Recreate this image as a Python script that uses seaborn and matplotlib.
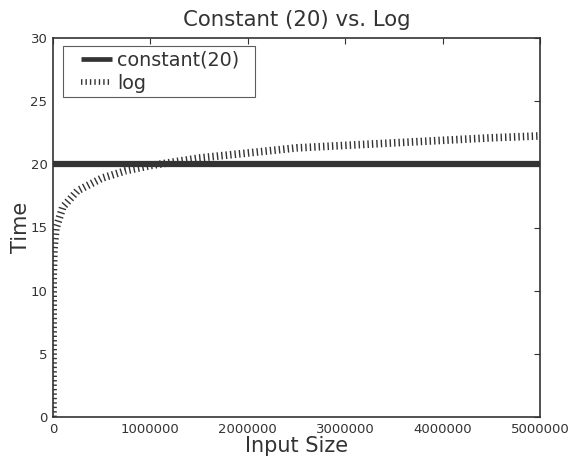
import matplotlib
matplotlib.use("Agg")
import matplotlib.pyplot as plt
from matplotlib.lines import Line2D
from matplotlib.legend_handler import HandlerLine2D
import seaborn as sns
import pandas as pd

# Values
input_size = [1, 2000, 10000, 30000, 100000, 250000, 500000, 750000, 1000000,
              1500000, 2000000, 2500000, 3000000, 3500000, 4000000, 4500000, 5000000]
log_time = [0.0, 11.0, 13.3, 14.9, 16.6, 17.9, 18.9, 19.5, 19.9,
            20.5, 20.9, 21.3, 21.5, 21.7, 21.9, 22.1, 22.25]
const_x = [0, 5000000]
const_time = [20, 20]

x_ticks = [0, 1000000, 2000000, 3000000, 4000000, 5000000]
y_ticks = [0, 5, 10, 15, 20, 25, 30]

sns.set_style("white")
plt.rcParams['font.family'] = ['DejaVu Sans']
plt.rcParams['lines.scale_dashes'] = False
ink = "#333333"
plt.rcParams['text.color'] = ink
plt.rcParams['axes.labelcolor'] = ink
plt.rcParams['xtick.color'] = ink
plt.rcParams['ytick.color'] = ink

fig = plt.figure(figsize=(5.69, 4.59), dpi=100)
ax = fig.add_axes([53/569, 1 - 417/459, (540-53)/569, (417-38)/459])

df_c = pd.DataFrame({"x": const_x, "y": const_time})
df_l = pd.DataFrame({"x": input_size, "y": log_time})
sns.lineplot(data=df_c, x="x", y="y", ax=ax, color=ink, lw=4.5,
             label="constant(20)", solid_capstyle="butt")
sns.lineplot(data=df_l, x="x", y="y", ax=ax, color=ink, lw=5.5, label="log")
ax.lines[1].set_dashes((1.0, 2.2))

ax.set_xlim(0, 5000000)
ax.set_ylim(0, 30)
ax.set_xticks(x_ticks)
ax.set_xticklabels([str(t) for t in x_ticks])
ax.set_yticks(y_ticks)
ax.tick_params(direction="in", top=True, right=True, length=4, width=0.8,
               labelsize=9.5, pad=4, colors=ink)
for s in ax.spines.values():
    s.set_color(ink)
    s.set_linewidth(1.2)

ax.set_title("Constant (20) vs. Log", fontsize=15.3, pad=9)
ax.set_xlabel("Input Size", fontsize=15, labelpad=0)
ax.set_ylabel("Time", fontsize=15, labelpad=-0.5)

leg = ax.legend(loc="upper left", fontsize=13.75, frameon=True, fancybox=False,
                mode="expand", bbox_to_anchor=(0.0205, 0.847, 0.394, 0.132),
                borderaxespad=0, handlelength=2.31, borderpad=0.25,
                labelspacing=0.2, handletextpad=0.26,
                handler_map={Line2D: HandlerLine2D(xpad=0.69)})
leg.get_frame().set_edgecolor(ink)
leg.get_frame().set_linewidth(0.8)
for h in leg.get_lines():
    h.set_linewidth(h.get_linewidth() * 0.75)

fig.savefig("out.png", dpi=100)
